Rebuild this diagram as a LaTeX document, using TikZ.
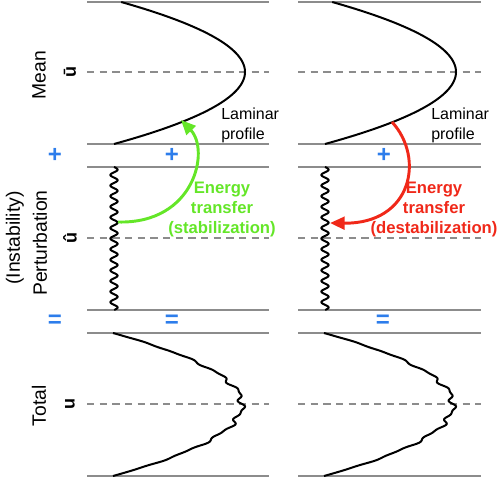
\documentclass[tikz,border=0pt]{standalone}
\usepackage{fontspec}
\setmainfont{Liberation Sans}
\usetikzlibrary{arrows.meta}
\definecolor{panelgray}{RGB}{140,140,140}
\definecolor{signblue}{RGB}{45,125,235}
\definecolor{stabgreen}{RGB}{100,230,40}
\definecolor{destabred}{RGB}{240,40,25}
\tikzset{
  panelline/.style={draw=panelgray, line width=0.8pt},
  centerline/.style={draw=panelgray, line width=0.8pt, dash pattern=on 5.5pt off 4pt},
  profile/.style={draw=black, line width=1.5pt},
  rowlabel/.style={rotate=90, font=\fontsize{14.5}{17}\selectfont, inner sep=0pt},
  symlabel/.style={rotate=90, font=\fontsize{13.5}{15}\selectfont\bfseries, inner sep=0pt},
  signlabel/.style={text=signblue, font=\fontsize{18}{20}\selectfont\bfseries, inner sep=0pt},
  lamlabel/.style={font=\fontsize{12}{15}\selectfont, align=left, inner sep=0pt},
  energylabel/.style={font=\fontsize{12.5}{15}\selectfont\bfseries, align=center, inner sep=0pt},
  transferarrow/.style={line width=2.2pt, -{Triangle[length=11pt,width=9.5pt]}},
}
\begin{document}
\begin{tikzpicture}[x=0.75pt,y=-0.75pt]
\useasboundingbox (0,0) rectangle (499,478);

% panel lines
\foreach \xa/\xb in {87/269, 298/481}{
  \foreach \yy in {2,144,167,310,333,476}{
    \draw[panelline] (\xa,\yy) -- (\xb,\yy);
  }
  \foreach \yy in {72,238,404}{
    \draw[centerline] (\xa,\yy) -- (\xb,\yy);
  }
}

% curves in both columns
\foreach \dx in {0,211}{
  \begin{scope}[xshift=\dx*0.75pt]
  % mean laminar profile
  \draw[profile] plot[domain=2:144, samples=80, smooth, variable=\t]
    ({114+131*(1-((\t-72)/72)^2)}, \t);
  % perturbation
  \draw[profile] plot[domain=167:310, samples=300, smooth, variable=\t]
    ({114+3.6*sin((\t-167)/10.6*360)}, \t);
  % total profile
  \draw[profile] plot[domain=333:476, samples=200, smooth, variable=\t]
    ({113+129*(1-((\t-404.5)/71.5)^2) + (1-((\t-404.5)/71.5)^2)*(2.6*sin(((\t-404.5)/71.5)*1500) + 1.6*sin(((\t-404.5)/71.5)*2800+40))}, \t);
  \end{scope}
}

% row labels
\node[rowlabel] (mean) at (39,75) {Mean};
\node[symlabel] (ubar) at (70,72) {ū};
\node[rowlabel] (inst) at (15,238) {(Instability)};
\node[rowlabel] (pert) at (40,243) {Perturbation};
\node[symlabel] (uhat) at (70,238) {û};
\node[rowlabel] (total) at (39,406) {Total};
\node[symlabel] (utot) at (70,404) {u};

% signs
\node[signlabel] (plusL) at (55,155) {+};
\node[signlabel] (plusA) at (172,155) {+};
\node[signlabel] (plusB) at (384,155) {+};
\node[signlabel] (eqL) at (55,321) {=};
\node[signlabel] (eqA) at (172,321) {=};
\node[signlabel] (eqB) at (383,321) {=};

% laminar profile labels
\node[lamlabel, anchor=west] (lamA) at (221,125) {Laminar\\profile};
\node[lamlabel, anchor=west] (lamB) at (431,125) {Laminar\\profile};

% energy transfer labels
\node[energylabel, text=stabgreen] (enA) at (222,209) {Energy\\transfer\\(stabilization)};
\node[energylabel, text=destabred] (enB) at (434,209) {Energy\\transfer\\(destabilization)};

% arrows
\coordinate (gstart) at (118,222);
\coordinate (gend) at (181,120);
\coordinate (rstart) at (392,122);
\coordinate (rend) at (330,223);
\draw[transferarrow, stabgreen] (gstart) .. controls (195,224) and (210,150) .. (gend);
\draw[transferarrow, destabred] (rstart) .. controls (425,158) and (412,224) .. (rend);

\end{tikzpicture}
\end{document}
